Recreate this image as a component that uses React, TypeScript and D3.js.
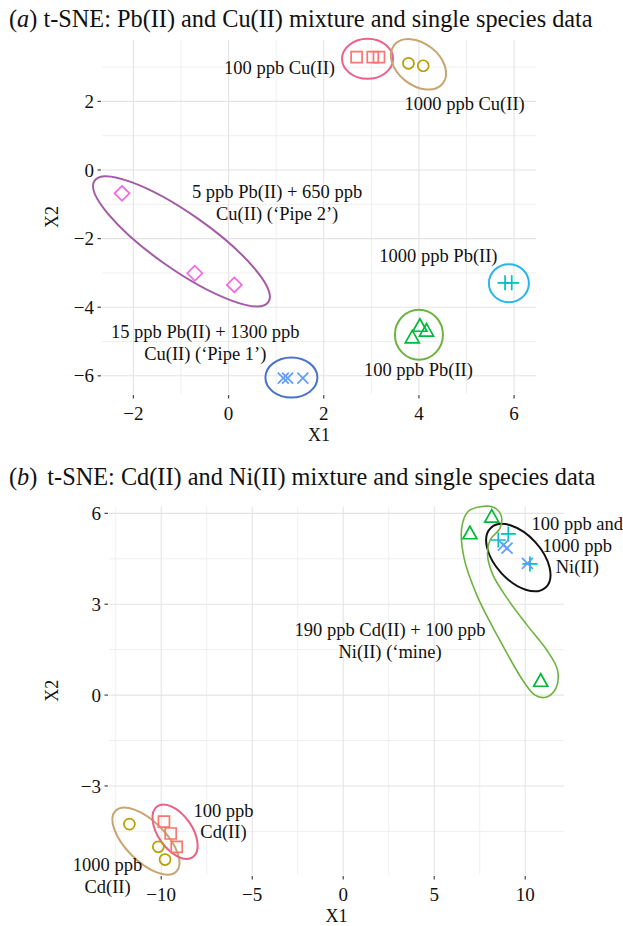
import React from "react";
import * as d3 from "d3";

const W = 623;
const H = 926;
const FONT = "'Liberation Serif', 'Times New Roman', serif";

// ggplot default hue palette (6 groups) and shapes 0..5
const palette = ["#F8766D", "#B79F00", "#00BA38", "#00BFC4", "#619CFF", "#F564E3"];

// ---------- Panel (a) data ----------
const aX1 = [2.69, 3.03, 3.16, 3.78, 4.09, 3.86, 4.02, 4.16, 5.81, 5.95, 1.15, 1.24, 1.56, -2.24, -0.71, 0.12];
const aX2 = [3.29, 3.29, 3.29, 3.11, 3.04, -4.91, -4.57, -4.71, -3.29, -3.29, -6.07, -6.07, -6.07, -0.68, -3.01, -3.35];
const aGroup = [0, 0, 0, 1, 1, 2, 2, 2, 3, 3, 4, 4, 4, 5, 5, 5];
const aXTicks = [-2, 0, 2, 4, 6];
const aXMinor = [-1, 1, 3, 5];
const aYTicks = [-6, -4, -2, 0, 2];
const aYMinor = [-5, -3, -1, 1, 3];
const aLabelLines = [
  ["100 ppb Cu(II)"],
  ["1000 ppb Cu(II)"],
  ["5 ppb Pb(II) + 650 ppb", "Cu(II) (\u2018Pipe 2\u2019)"],
  ["1000 ppb Pb(II)"],
  ["15 ppb Pb(II) + 1300 ppb", "Cu(II) (\u2018Pipe 1\u2019)"],
  ["100 ppb Pb(II)"],
];
const aLabelX = [1.07, 4.96, 1.02, 4.41, -0.49, 3.99];
const aLabelY = [3.0, 1.95, -0.63, -2.48, -4.71, -5.83];
// annotation ellipses: centre in data units
const aEllCx = [2.92, 3.99, -0.99, 4.0, 5.89, 1.32];
const aEllCy = [3.24, 3.08, -2.08, -4.8, -3.3, -6.05];
const aEllRx = [25.5, 31, 106, 24, 20, 26];
const aEllRy = [20, 21, 28, 25, 19, 20];
const aEllAngle = [0, 38, 35, 0, 0, 0];
const aEllColor = ["#EC5F87", "#C9A571", "#A35BA6", "#6DB33F", "#26B6E9", "#4A72C8"];

// ---------- Panel (b) data ----------
const bX1 = [-9.85, -9.48, -9.15, -11.75, -10.16, -9.79, 6.96, 8.16, 10.85, 9.07, 8.52, 10.26, 8.8, 9.0, 10.12];
const bX2 = [-4.18, -4.57, -5.01, -4.26, -5.01, -5.43, 5.31, 5.86, 0.44, 5.32, 5.12, 4.33, 4.95, 4.85, 4.35];
const bGroup = [0, 0, 0, 1, 1, 1, 2, 2, 2, 3, 3, 3, 4, 4, 4];
const bXTicks = [-10, -5, 0, 5, 10];
const bXMinor = [-12.5, -7.5, -2.5, 2.5, 7.5];
const bYTicks = [-3, 0, 3, 6];
const bYMinor = [-4.5, -1.5, 1.5, 4.5];
const bLabelLines = [
  ["100 ppb and", "1000 ppb", "Ni(II)"],
  ["190 ppb Cd(II) + 100 ppb", "Ni(II) (\u2018mine)"],
  ["100 ppb", "Cd(II)"],
  ["1000 ppb", "Cd(II)"],
];
const bLabelX = [12.86, 2.57, -6.58, -12.95];
const bLabelY = [5.67, 2.15, -3.8, -5.61];
const bEllCx = [-10.84, -9.24, 9.62];
const bEllCy = [-4.82, -4.51, 4.54];
const bEllRx = [43, 31, 40.5];
const bEllRy = [20, 17, 23];
const bEllAngle = [45, 55, 47.6];
const bEllColor = ["#C9A571", "#EC5F87", "#111111"];
// hand-drawn loop around the 'mine' triangles
const bLoopX1 = [7.52, 8.25, 8.67, 8.62, 8.07, 7.93, 8.23, 9.0, 10.1, 11.18, 11.77, 11.69, 11.14, 10.54, 9.93, 8.45, 7.34, 6.64, 6.51, 6.86];
const bLoopX2 = [6.22, 6.2, 5.94, 5.52, 5.12, 4.62, 3.96, 3.2, 2.31, 1.49, 0.83, 0.23, -0.07, 0.0, 0.43, 1.98, 3.3, 4.52, 5.52, 6.06];

function markerPath(shape: number): string {
  switch (shape) {
    case 0:
      return "M-5.5,-5.5H5.5V5.5H-5.5Z";
    case 1:
      return d3.arc()({ innerRadius: 0, outerRadius: 5.5, startAngle: 0, endAngle: 2 * Math.PI } as any) as string;
    case 2:
      return "M0,-8L7,4.5L-7,4.5Z";
    case 3:
      return "M-7.5,0H7.5M0,-7.5V7.5";
    case 4:
      return "M-5.5,-5.5L5.5,5.5M-5.5,5.5L5.5,-5.5";
    default:
      return "M0,-7.5L7.5,0L0,7.5L-7.5,0Z";
  }
}

type PanelProps = {
  left: number; right: number; top: number; bottom: number;
  xDomain: [number, number]; yDomain: [number, number];
  xTicks: number[]; xMinor: number[]; yTicks: number[]; yMinor: number[];
  xs: number[]; ys: number[]; groups: number[];
  labelLines: string[][]; labelX: number[]; labelY: number[];
  ellCx: number[]; ellCy: number[]; ellRx: number[]; ellRy: number[]; ellAngle: number[]; ellColor: string[];
  loopX?: number[]; loopY?: number[];
  tickFmt: (v: number) => string;
};

function Panel(p: PanelProps) {
  const x = d3.scaleLinear().domain(p.xDomain).range([p.left, p.right]);
  const y = d3.scaleLinear().domain(p.yDomain).range([p.bottom, p.top]);
  const loopLine = d3.line<number>().x((i) => x(p.loopX![i])).y((i) => y(p.loopY![i])).curve(d3.curveCatmullRomClosed.alpha(0.5));
  const cx = (p.left + p.right) / 2;
  const cy = (p.top + p.bottom) / 2;
  return (
    <g>
      {/* grid */}
      {p.xMinor.map((v) => (
        <line key={"xm" + v} x1={x(v)} x2={x(v)} y1={p.top} y2={p.bottom} stroke="#EDEDED" strokeWidth={0.9} />
      ))}
      {p.yMinor.map((v) => (
        <line key={"ym" + v} y1={y(v)} y2={y(v)} x1={p.left} x2={p.right} stroke="#EDEDED" strokeWidth={0.9} />
      ))}
      {p.xTicks.map((v) => (
        <line key={"xg" + v} x1={x(v)} x2={x(v)} y1={p.top} y2={p.bottom} stroke="#E4E4E4" strokeWidth={1.1} />
      ))}
      {p.yTicks.map((v) => (
        <line key={"yg" + v} y1={y(v)} y2={y(v)} x1={p.left} x2={p.right} stroke="#E4E4E4" strokeWidth={1.1} />
      ))}
      {/* ticks */}
      {p.xTicks.map((v) => (
        <g key={"xt" + v}>
          <line x1={x(v)} x2={x(v)} y1={p.bottom + 1} y2={p.bottom + 4.5} stroke="#444" strokeWidth={1.2} />
          <text x={x(v)} y={p.bottom + 19} dy="0.35em" textAnchor="middle" fontSize={19} fill="#111">{p.tickFmt(v)}</text>
        </g>
      ))}
      {p.yTicks.map((v) => (
        <g key={"yt" + v}>
          <line x1={p.left - 4.5} x2={p.left - 1} y1={y(v)} y2={y(v)} stroke="#444" strokeWidth={1.2} />
          <text x={p.left - 8} y={y(v)} dy="0.35em" textAnchor="end" fontSize={19} fill="#111">{p.tickFmt(v)}</text>
        </g>
      ))}
      {/* axis titles */}
      <text x={cx} y={p.bottom + 41} dy="0.35em" textAnchor="middle" fontSize={18} fill="#111">X1</text>
      <text transform={`translate(52,${cy}) rotate(-90)`} dy="0.35em" textAnchor="middle" fontSize={18} fill="#111">X2</text>
      {/* annotation ellipses */}
      {p.ellCx.map((c, i) => (
        <ellipse key={"e" + i} cx={0} cy={0} rx={p.ellRx[i]} ry={p.ellRy[i]}
          transform={`translate(${x(c)},${y(p.ellCy[i])}) rotate(${p.ellAngle[i]})`}
          fill="none" stroke={p.ellColor[i]} strokeWidth={2} />
      ))}
      {p.loopX && (
        <path d={loopLine(d3.range(p.loopX.length)) as string} fill="none" stroke="#6DB33F" strokeWidth={1.6} />
      )}
      {/* points */}
      {p.xs.map((v, i) => (
        <path key={"p" + i} d={markerPath(p.groups[i])} transform={`translate(${x(v)},${y(p.ys[i])})`}
          fill="none" stroke={palette[p.groups[i]]} strokeWidth={1.7} />
      ))}
      {/* labels */}
      {p.labelLines.map((lines, i) => (
        <text key={"l" + i} x={x(p.labelX[i])} y={y(p.labelY[i])} textAnchor="middle" fontSize={18.5} fill="#111">
          {lines.map((s, j) => (
            <tspan key={j} x={x(p.labelX[i])} dy={j === 0 ? "0.35em" : 21.7}>{s}</tspan>
          ))}
        </text>
      ))}
    </g>
  );
}

const fmt = (v: number) => (v < 0 ? "\u2212" + Math.abs(v) : String(v));

export default function App() {
  return (
    <svg width={W} height={H} style={{ position: "absolute", left: 0, top: 0, display: "block", background: "#fff", fontFamily: FONT }}>
      <rect width={W} height={H} fill="#fff" />
      <text x={9} y={27} fontSize={24.3} fill="#111">
        <tspan>(</tspan><tspan fontStyle="italic">a</tspan><tspan>) t-SNE: Pb(II) and Cu(II) mixture and single species data</tspan>
      </text>
      <Panel left={102} right={536} top={40} bottom={394}
        xDomain={[-2.66, 6.46]} yDomain={[-6.53, 3.79]}
        xTicks={aXTicks} xMinor={aXMinor} yTicks={aYTicks} yMinor={aYMinor}
        xs={aX1} ys={aX2} groups={aGroup}
        labelLines={aLabelLines} labelX={aLabelX} labelY={aLabelY}
        ellCx={aEllCx} ellCy={aEllCy} ellRx={aEllRx} ellRy={aEllRy} ellAngle={aEllAngle} ellColor={aEllColor}
        tickFmt={fmt} />
      <text x={9} y={485} fontSize={24.3} fill="#111">
        <tspan>(</tspan><tspan fontStyle="italic">b</tspan><tspan>)</tspan><tspan dx={10}>t-SNE: Cd(II) and Ni(II) mixture and single species data</tspan>
      </text>
      <Panel left={109} right={564} top={506.7} bottom={875}
        xDomain={[-12.87, 12.13]} yDomain={[-5.94, 6.22]}
        xTicks={bXTicks} xMinor={bXMinor} yTicks={bYTicks} yMinor={bYMinor}
        xs={bX1} ys={bX2} groups={bGroup}
        labelLines={bLabelLines} labelX={bLabelX} labelY={bLabelY}
        ellCx={bEllCx} ellCy={bEllCy} ellRx={bEllRx} ellRy={bEllRy} ellAngle={bEllAngle} ellColor={bEllColor}
        loopX={bLoopX1} loopY={bLoopX2}
        tickFmt={fmt} />
    </svg>
  );
}
